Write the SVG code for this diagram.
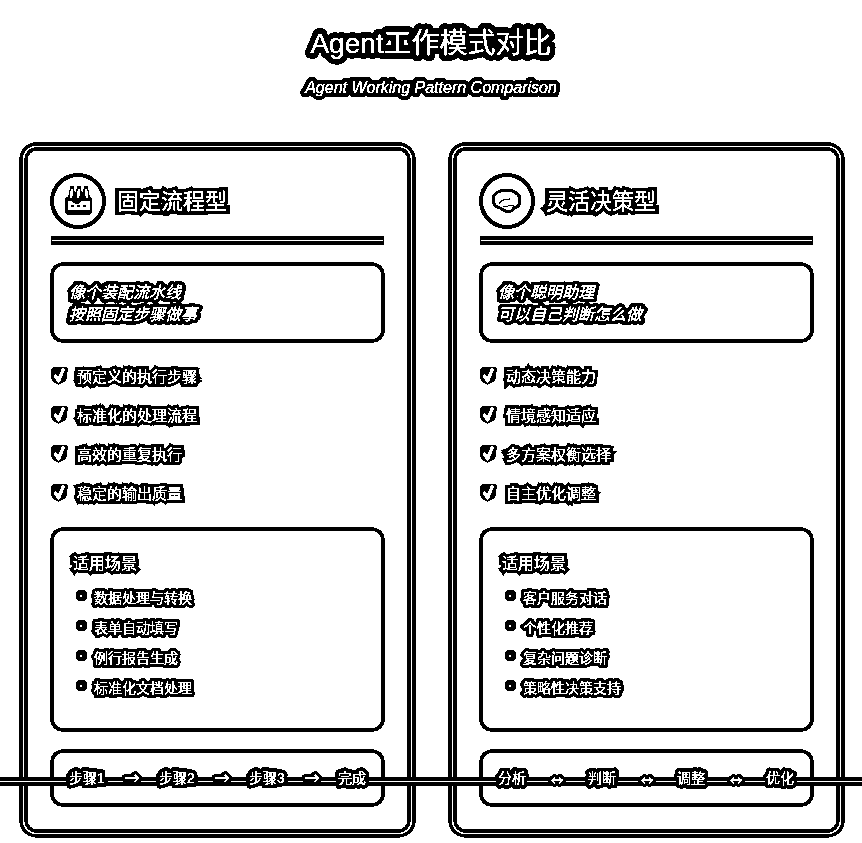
<svg xmlns="http://www.w3.org/2000/svg" width="862" height="843" viewBox="0 0 862 843">
<style>
text{font-family:"Liberation Sans","Noto Sans CJK SC",sans-serif;fill:#fff;stroke:#000;stroke-linejoin:round;paint-order:stroke;}
.h1{font-size:28px;stroke-width:12px}
.h2{font-size:16px;font-style:italic;stroke-width:9px}
.h3{font-size:22px;stroke-width:8px;stroke-linejoin:miter}
.i{font-size:16px;font-style:italic;stroke-width:8px}
.c{font-size:15px;stroke-width:7px;stroke-linejoin:miter}
.t{font-size:16px;stroke-width:7px;stroke-linejoin:miter}
.s{font-size:14px;stroke-width:7px}
.n{font-size:8px;stroke:none}
.f{font-size:14px;stroke-width:8px;text-anchor:middle}
.a{font-size:19px;stroke-width:7px;text-anchor:middle;font-family:"DejaVu Sans",sans-serif}
.v{font-size:15px;stroke-width:7px;text-anchor:middle;font-family:"DejaVu Sans",sans-serif}
.o{fill:none;stroke:#000;stroke-width:9}
.w{fill:none;stroke:#fff;stroke-width:1.200}
.r{fill:#fff;stroke:#000;stroke-width:4}
.d{fill:#000}
.x{fill:none;stroke:#fff;stroke-width:3;stroke-linecap:round;stroke-linejoin:round}
</style>
<defs>
<filter id="bw" x="0" y="0" width="100%" height="100%" color-interpolation-filters="sRGB">
<feComponentTransfer><feFuncR type="discrete" tableValues="0 1 1 1"/><feFuncG type="discrete" tableValues="0 1 1 1"/><feFuncB type="discrete" tableValues="0 1 1 1"/></feComponentTransfer>
</filter>
<g id="check"><path class="d" d="M0 3q0-3 3-3h12q2 0 2 3l-1 8q-1 4-5 5l-3 2-5-2q-3-2-3-6z"/><path class="x" d="M4.500 9l3 5 4.500-11"/></g>
<rect id="bullet" class="d" width="11" height="11" rx="3"/>
</defs>
<g filter="url(#bw)">
<rect width="862" height="843" fill="#fff"/>
<g id="title">
<text class="h1" x="431" y="53" text-anchor="middle">Agent工作模式对比</text>
<text class="h2" x="431" y="93" text-anchor="middle">Agent Working Pattern Comparison</text>
</g>
<g id="card-fixed">
<rect class="o" x="23.500" y="146.500" width="388" height="687" rx="13"/>
<rect class="w" x="23.500" y="146.500" width="388" height="687" rx="13"/>
<circle cx="78" cy="201" r="26" fill="#fff" stroke="#000" stroke-width="4.500"/>
<path class="d" d="M65 213v-15l3-2 2-10h4l1 7 2-7h4l1 7 2-7h4l2 10 2 2v15l-2 2h-23z"/>
<path d="M72 189l-1 9M79 189l-1 9M86 189l1 9" stroke="#fff" stroke-width="2"/>
<path fill="#fff" d="M68 201h3l4 3h4l3-3h8v9h-22z"/>
<path d="M71 206h3M77 206h3M83 206h3" stroke="#000" stroke-width="1.500"/>
<text class="h3" x="117" y="209">固定流程型</text>
<rect class="d" x="51" y="236" width="333" height="9"/><rect x="52" y="240" width="331" height="1.200" fill="#fff"/>
<rect class="r" x="52" y="264" width="331" height="77" rx="11"/>
<text class="i" x="69" y="298">像个装配流水线</text>
<text class="i" x="69" y="320">按照固定步骤做事</text>
<use href="#check" x="51" y="367"/><text class="c" x="77" y="382">预定义的执行步骤</text>
<use href="#check" x="51" y="406"/><text class="c" x="77" y="421">标准化的处理流程</text>
<use href="#check" x="51" y="445"/><text class="c" x="77" y="460">高效的重复执行</text>
<use href="#check" x="51" y="484"/><text class="c" x="77" y="499">稳定的输出质量</text>
<rect class="r" x="52" y="529" width="331" height="201" rx="11"/>
<text class="t" x="73" y="569">适用场景</text>
<use href="#bullet" x="76" y="590"/><text class="n" x="79.500" y="598">•</text><text class="s" x="94" y="603">数据处理与转换</text>
<use href="#bullet" x="76" y="620"/><text class="n" x="79.500" y="628">•</text><text class="s" x="94" y="633">表单自动填写</text>
<use href="#bullet" x="76" y="650"/><text class="n" x="79.500" y="658">•</text><text class="s" x="94" y="663">例行报告生成</text>
<use href="#bullet" x="76" y="680"/><text class="n" x="79.500" y="688">•</text><text class="s" x="94" y="693">标准化文档处理</text>
<rect class="r" x="52" y="751" width="331" height="54" rx="11"/>
</g>
<g id="card-flex">
<rect class="o" x="452.500" y="146.500" width="388" height="687" rx="13"/>
<rect class="w" x="452.500" y="146.500" width="388" height="687" rx="13"/>
<circle cx="507" cy="201" r="26" fill="#fff" stroke="#000" stroke-width="4.500"/>
<path d="M493 200c0-7 7-10 13-10s14 3 14 10c0 5-3 8-6 8-2 4-6 4-9 3-2-1-3-2-5-3-4-1-7-4-7-8z" fill="#fff" stroke="#000" stroke-width="3.500"/>
<path d="M499 204c2-5 8-5 11-5M503 207c4-1 8-2 11-1" fill="none" stroke="#000" stroke-width="1.500"/>
<text class="h3" x="546" y="209">灵活决策型</text>
<rect class="d" x="480" y="236" width="333" height="9"/><rect x="481" y="240" width="331" height="1.200" fill="#fff"/>
<rect class="r" x="481" y="264" width="331" height="77" rx="11"/>
<text class="i" x="498" y="298">像个聪明助理</text>
<text class="i" x="498" y="320">可以自己判断怎么做</text>
<use href="#check" x="480" y="367"/><text class="c" x="506" y="382">动态决策能力</text>
<use href="#check" x="480" y="406"/><text class="c" x="506" y="421">情境感知适应</text>
<use href="#check" x="480" y="445"/><text class="c" x="506" y="460">多方案权衡选择</text>
<use href="#check" x="480" y="484"/><text class="c" x="506" y="499">自主优化调整</text>
<rect class="r" x="481" y="529" width="331" height="201" rx="11"/>
<text class="t" x="502" y="569">适用场景</text>
<use href="#bullet" x="505" y="590"/><text class="n" x="508.500" y="598">•</text><text class="s" x="523" y="603">客户服务对话</text>
<use href="#bullet" x="505" y="620"/><text class="n" x="508.500" y="628">•</text><text class="s" x="523" y="633">个性化推荐</text>
<use href="#bullet" x="505" y="650"/><text class="n" x="508.500" y="658">•</text><text class="s" x="523" y="663">复杂问题诊断</text>
<use href="#bullet" x="505" y="680"/><text class="n" x="508.500" y="688">•</text><text class="s" x="523" y="693">策略性决策支持</text>
<rect class="r" x="481" y="751" width="331" height="54" rx="11"/>
</g>
<g id="connectors">
<rect class="d" x="0" y="777" width="862" height="9"/>
<rect x="0" y="781" width="862" height="1.200" fill="#fff"/>
</g>
<g id="flow-labels">
<text class="f" x="87" y="783">步骤1</text><text class="a" x="132" y="784">→</text><text class="f" x="177" y="783">步骤2</text><text class="a" x="222" y="784">→</text><text class="f" x="267" y="783">步骤3</text><text class="a" x="312" y="784">→</text><text class="f" x="352" y="783">完成</text>
<text class="f" x="512" y="783">分析</text><text class="v" x="557" y="785">↔</text><text class="f" x="602" y="783">判断</text><text class="v" x="647" y="785">↔</text><text class="f" x="691" y="783">调整</text><text class="v" x="736" y="785">↔</text><text class="f" x="780" y="783">优化</text>
</g>
</g>
</svg>
